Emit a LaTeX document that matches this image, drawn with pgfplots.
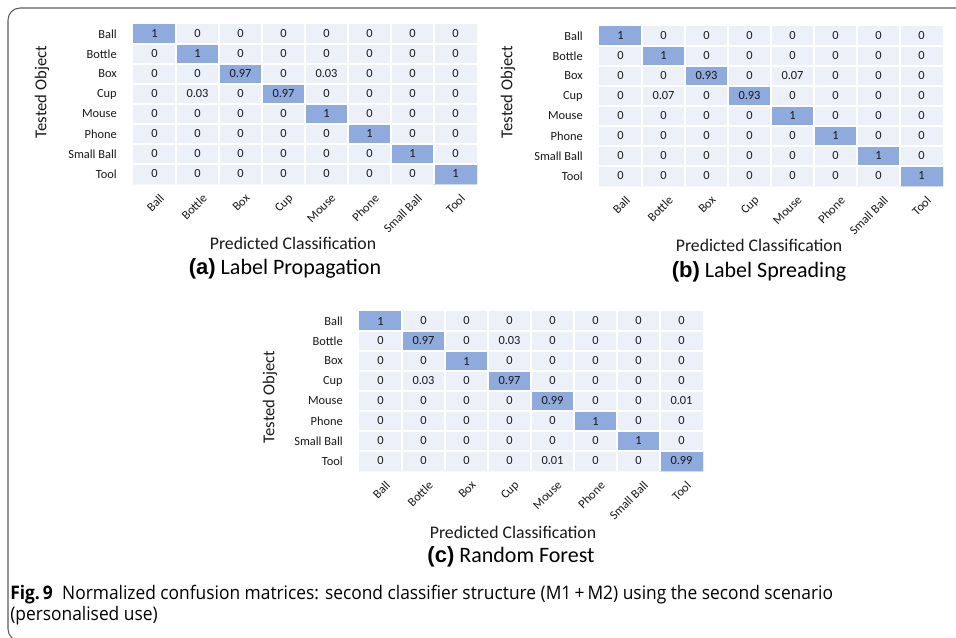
\documentclass[border=0pt]{standalone}
\usepackage{pgfplots}
\pgfplotsset{compat=1.18}
\usepackage{pgfplotstable}
\usepackage{fontspec}
\setmainfont{Carlito}
\newfontfamily\capfont[FakeStretch=0.93]{Open Sans}
\newfontfamily\arialb{Liberation Sans}
\definecolor{cellL}{RGB}{236,240,249}
\definecolor{cellD}{RGB}{143,170,220}
\definecolor{txt}{RGB}{25,25,25}
\definecolor{frame}{RGB}{90,90,90}

\pgfplotstableread[row sep=\\]{
x y v\\
0 0 1\\ 1 0 0\\ 2 0 0\\ 3 0 0\\ 4 0 0\\ 5 0 0\\ 6 0 0\\ 7 0 0\\
0 1 0\\ 1 1 1\\ 2 1 0\\ 3 1 0\\ 4 1 0\\ 5 1 0\\ 6 1 0\\ 7 1 0\\
0 2 0\\ 1 2 0\\ 2 2 0.97\\ 3 2 0\\ 4 2 0.03\\ 5 2 0\\ 6 2 0\\ 7 2 0\\
0 3 0\\ 1 3 0.03\\ 2 3 0\\ 3 3 0.97\\ 4 3 0\\ 5 3 0\\ 6 3 0\\ 7 3 0\\
0 4 0\\ 1 4 0\\ 2 4 0\\ 3 4 0\\ 4 4 1\\ 5 4 0\\ 6 4 0\\ 7 4 0\\
0 5 0\\ 1 5 0\\ 2 5 0\\ 3 5 0\\ 4 5 0\\ 5 5 1\\ 6 5 0\\ 7 5 0\\
0 6 0\\ 1 6 0\\ 2 6 0\\ 3 6 0\\ 4 6 0\\ 5 6 0\\ 6 6 1\\ 7 6 0\\
0 7 0\\ 1 7 0\\ 2 7 0\\ 3 7 0\\ 4 7 0\\ 5 7 0\\ 6 7 0\\ 7 7 1\\
}\tabA
\pgfplotstableread[row sep=\\]{
x y v\\
0 0 1\\ 1 0 0\\ 2 0 0\\ 3 0 0\\ 4 0 0\\ 5 0 0\\ 6 0 0\\ 7 0 0\\
0 1 0\\ 1 1 1\\ 2 1 0\\ 3 1 0\\ 4 1 0\\ 5 1 0\\ 6 1 0\\ 7 1 0\\
0 2 0\\ 1 2 0\\ 2 2 0.93\\ 3 2 0\\ 4 2 0.07\\ 5 2 0\\ 6 2 0\\ 7 2 0\\
0 3 0\\ 1 3 0.07\\ 2 3 0\\ 3 3 0.93\\ 4 3 0\\ 5 3 0\\ 6 3 0\\ 7 3 0\\
0 4 0\\ 1 4 0\\ 2 4 0\\ 3 4 0\\ 4 4 1\\ 5 4 0\\ 6 4 0\\ 7 4 0\\
0 5 0\\ 1 5 0\\ 2 5 0\\ 3 5 0\\ 4 5 0\\ 5 5 1\\ 6 5 0\\ 7 5 0\\
0 6 0\\ 1 6 0\\ 2 6 0\\ 3 6 0\\ 4 6 0\\ 5 6 0\\ 6 6 1\\ 7 6 0\\
0 7 0\\ 1 7 0\\ 2 7 0\\ 3 7 0\\ 4 7 0\\ 5 7 0\\ 6 7 0\\ 7 7 1\\
}\tabB
\pgfplotstableread[row sep=\\]{
x y v\\
0 0 1\\ 1 0 0\\ 2 0 0\\ 3 0 0\\ 4 0 0\\ 5 0 0\\ 6 0 0\\ 7 0 0\\
0 1 0\\ 1 1 0.97\\ 2 1 0\\ 3 1 0.03\\ 4 1 0\\ 5 1 0\\ 6 1 0\\ 7 1 0\\
0 2 0\\ 1 2 0\\ 2 2 1\\ 3 2 0\\ 4 2 0\\ 5 2 0\\ 6 2 0\\ 7 2 0\\
0 3 0\\ 1 3 0.03\\ 2 3 0\\ 3 3 0.97\\ 4 3 0\\ 5 3 0\\ 6 3 0\\ 7 3 0\\
0 4 0\\ 1 4 0\\ 2 4 0\\ 3 4 0\\ 4 4 0.99\\ 5 4 0\\ 6 4 0\\ 7 4 0.01\\
0 5 0\\ 1 5 0\\ 2 5 0\\ 3 5 0\\ 4 5 0\\ 5 5 1\\ 6 5 0\\ 7 5 0\\
0 6 0\\ 1 6 0\\ 2 6 0\\ 3 6 0\\ 4 6 0\\ 5 6 0\\ 6 6 1\\ 7 6 0\\
0 7 0\\ 1 7 0\\ 2 7 0\\ 3 7 0\\ 4 7 0.01\\ 5 7 0\\ 6 7 0\\ 7 7 0.99\\
}\tabC

\pgfplotsset{
  cm/.style={
    anchor=north west,
    x=32.25pt, y=15pt, y dir=reverse,
    xmin=-0.5, xmax=7.5, ymin=-0.5, ymax=7.5, enlargelimits=false,
    axis line style={draw=none},
    major tick length=0pt, minor tick length=0pt,
    xtick={0,...,7}, ytick={0,...,7},
    xticklabels={Ball,Bottle,Box,Cup,Mouse,Phone,Small Ball,Tool},
    yticklabels={Ball,Bottle,Box,Cup,Mouse,Phone,Small Ball,Tool},
    xticklabel style={rotate=45, anchor=north east, inner sep=0.5pt, font=\fontsize{9.3}{10}\selectfont, text=txt, xshift=-2pt, yshift=-6.5pt},
    yticklabel style={anchor=east, inner sep=1pt, font=\fontsize{9.3}{10}\selectfont, text=txt, xshift=-11pt},
    minor xtick={0.5,1.5,...,6.5}, minor ytick={0.5,1.5,...,6.5},
    xminorgrids=true, yminorgrids=true,
    minor grid style={white, line width=0.9pt},
    axis on top,
    colormap={cmap}{color(0cm)=(cellL) color(9cm)=(cellL) color(9.05cm)=(cellD) color(10cm)=(cellD)},
    point meta min=0, point meta max=1,
  },
  cells/.style={matrix plot*, mesh/cols=8, point meta=explicit},
  nums/.style={only marks, mark=none, point meta=explicit symbolic, nodes near coords,
    nodes near coords style={anchor=center, inner sep=1pt, font=\fontsize{9.3}{10}\selectfont, text=txt}},
}

\begin{document}
\begin{tikzpicture}[x=0.75pt, y=-0.75pt]
\useasboundingbox (0,0) rectangle (956,637);
\draw[frame, line width=0.8pt, rounded corners=9pt] (960,8) -- (8,8) -- (8,641) -- (60,641);

% (a)
\begin{axis}[cm, at={(99.75pt,-18pt)}]
\addplot[cells] table[x=x, y=y, meta=v] {\tabA};
\addplot[nums] table[x=x, y=y, meta=v] {\tabA};
\end{axis}
% (b)
\begin{axis}[cm, at={(449.25pt,-19.5pt)}]
\addplot[cells] table[x=x, y=y, meta=v] {\tabB};
\addplot[nums] table[x=x, y=y, meta=v] {\tabB};
\end{axis}
% (c)
\begin{axis}[cm, at={(269.25pt,-233.25pt)}]
\addplot[cells] table[x=x, y=y, meta=v] {\tabC};
\addplot[nums] table[x=x, y=y, meta=v] {\tabC};
\end{axis}

\tikzset{lab/.style={font=\fontsize{13.3}{15}\selectfont, text=txt, inner sep=0pt},
         tob/.style={font=\fontsize{12.5}{15}\selectfont, text=txt, inner sep=0pt, rotate=90},
         sub/.style={font=\fontsize{16.5}{19}\selectfont, text=black, inner sep=0pt}}
\node[tob] at (42,92) {Tested Object};
\node[lab] at (293,243) {Predicted Classification};
\node[sub] at (285,269) {{\arialb\bfseries (a)} Label Propagation};

\node[tob] at (508,92) {Tested Object};
\node[lab] at (759,245) {Predicted Classification};
\node[sub] at (759,272) {{\arialb\bfseries (b)} Label Spreading};

\node[tob] at (270,397) {Tested Object};
\node[lab] at (513,532) {Predicted Classification};
\node[sub] at (511,557) {{\arialb\bfseries (c)} Random Forest};

\node[anchor=west, inner sep=0pt, font=\capfont\fontsize{14}{16}\selectfont] at (10,595)
  {{\bfseries Fig.\,9}\enspace Normalized confusion matrices: second classifier structure (M1\,+\,M2) using the second scenario};
\node[anchor=west, inner sep=0pt, font=\capfont\fontsize{14}{16}\selectfont] at (10,616)
  {(personalised use)};
\end{tikzpicture}
\end{document}
